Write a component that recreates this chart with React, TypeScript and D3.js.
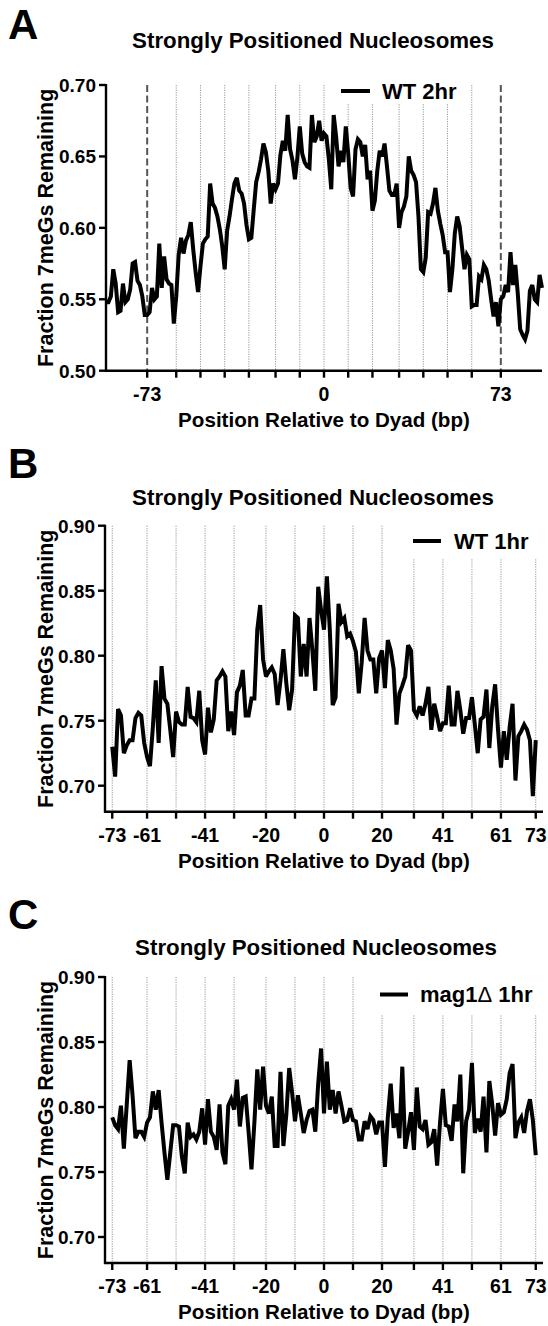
import React from "react";
import * as d3 from "d3";

// Fraction 7meGs remaining per bp
const startA = -90;
const wt2hr = [
  0.548, 0.548, 0.552, 0.571, 0.561, 0.541, 0.542, 0.561, 0.548, 0.55,
  0.557, 0.575, 0.576, 0.563, 0.56, 0.552, 0.539, 0.539, 0.541, 0.558,
  0.55, 0.552, 0.589, 0.558, 0.58, 0.564, 0.561, 0.56, 0.533, 0.552,
  0.581, 0.593, 0.582, 0.591, 0.595, 0.604, 0.585, 0.569, 0.555, 0.573,
  0.589, 0.592, 0.594, 0.631, 0.617, 0.614, 0.608, 0.599, 0.587, 0.571,
  0.598, 0.608, 0.62, 0.631, 0.635, 0.626, 0.624, 0.617, 0.602, 0.592,
  0.593, 0.613, 0.632, 0.639, 0.648, 0.659, 0.653, 0.64, 0.617, 0.631,
  0.627, 0.631, 0.651, 0.661, 0.654, 0.679, 0.655, 0.647, 0.634, 0.649,
  0.671, 0.652, 0.646, 0.643, 0.642, 0.679, 0.66, 0.664, 0.675, 0.661,
  0.666, 0.664, 0.648, 0.627, 0.679, 0.664, 0.643, 0.654, 0.646, 0.671,
  0.652, 0.628, 0.622, 0.655, 0.662, 0.66, 0.65, 0.658, 0.634, 0.64,
  0.612, 0.619, 0.64, 0.654, 0.65, 0.659, 0.643, 0.626, 0.623, 0.623,
  0.631, 0.6, 0.611, 0.615, 0.622, 0.65, 0.64, 0.637, 0.632, 0.608,
  0.571, 0.569, 0.579, 0.611, 0.61, 0.617, 0.628, 0.612, 0.603, 0.595,
  0.583, 0.583, 0.555, 0.571, 0.596, 0.608, 0.601, 0.586, 0.571, 0.581,
  0.578, 0.545, 0.546, 0.546, 0.566, 0.564, 0.574, 0.571, 0.563, 0.55,
  0.538, 0.548, 0.531, 0.55, 0.552, 0.56, 0.555, 0.583, 0.56, 0.574,
  0.554, 0.529, 0.525, 0.522, 0.528, 0.556, 0.56, 0.55, 0.548, 0.567,
  0.558,
];

const startBC = -73;
const wt1hr = [
  0.73, 0.707, 0.759, 0.754, 0.725, 0.731, 0.735, 0.735, 0.752, 0.756,
  0.754, 0.733, 0.722, 0.715, 0.745, 0.781, 0.733, 0.792, 0.767, 0.763,
  0.743, 0.722, 0.757, 0.749, 0.747, 0.747, 0.776, 0.753, 0.752, 0.749,
  0.773, 0.735, 0.724, 0.76, 0.741, 0.751, 0.781, 0.784, 0.788, 0.784,
  0.742, 0.757, 0.739, 0.772, 0.777, 0.789, 0.754, 0.754, 0.767, 0.767,
  0.82, 0.839, 0.797, 0.784, 0.788, 0.791, 0.786, 0.762, 0.781, 0.805,
  0.779, 0.758, 0.774, 0.831, 0.829, 0.784, 0.809, 0.784, 0.829, 0.804,
  0.773, 0.853, 0.835, 0.82, 0.861, 0.82, 0.762, 0.768, 0.84, 0.826,
  0.829, 0.815, 0.817, 0.811, 0.803, 0.771, 0.795, 0.829, 0.804, 0.797,
  0.797, 0.771, 0.798, 0.804, 0.775, 0.812, 0.804, 0.79, 0.747, 0.771,
  0.777, 0.784, 0.808, 0.804, 0.758, 0.754, 0.761, 0.754, 0.763, 0.776,
  0.743, 0.763, 0.753, 0.742, 0.748, 0.748, 0.777, 0.747, 0.747, 0.773,
  0.758, 0.74, 0.752, 0.752, 0.768, 0.747, 0.725, 0.751, 0.753, 0.774,
  0.729, 0.761, 0.778, 0.743, 0.714, 0.742, 0.72, 0.745, 0.763, 0.704,
  0.738, 0.742, 0.747, 0.743, 0.735, 0.692, 0.735,
];

const mag1 = [
  0.792, 0.786, 0.783, 0.801, 0.768, 0.802, 0.836, 0.809, 0.776, 0.781,
  0.781, 0.777, 0.788, 0.792, 0.812, 0.798, 0.813, 0.788, 0.765, 0.744,
  0.765, 0.786, 0.786, 0.785, 0.762, 0.749, 0.788, 0.777, 0.779, 0.775,
  0.781, 0.799, 0.771, 0.806, 0.781, 0.777, 0.767, 0.802, 0.765, 0.756,
  0.801, 0.806, 0.798, 0.821, 0.785, 0.807, 0.808, 0.781, 0.752, 0.788,
  0.829, 0.798, 0.831, 0.801, 0.795, 0.808, 0.77, 0.77, 0.827, 0.77,
  0.794, 0.83, 0.811, 0.789, 0.809, 0.795, 0.78, 0.79, 0.797, 0.798,
  0.781, 0.818, 0.845, 0.795, 0.835, 0.798, 0.813, 0.795, 0.812, 0.801,
  0.789, 0.79, 0.799, 0.79, 0.789, 0.775, 0.775, 0.789, 0.783, 0.793,
  0.79, 0.779, 0.788, 0.788, 0.754, 0.792, 0.818, 0.784, 0.795, 0.776,
  0.831, 0.768, 0.781, 0.796, 0.767, 0.815, 0.785, 0.783, 0.79, 0.771,
  0.773, 0.783, 0.755, 0.788, 0.814, 0.786, 0.785, 0.774, 0.802, 0.789,
  0.825, 0.749, 0.789, 0.798, 0.834, 0.78, 0.791, 0.781, 0.808, 0.765,
  0.82, 0.802, 0.778, 0.803, 0.794, 0.796, 0.806, 0.826, 0.833, 0.776,
  0.788, 0.792, 0.78, 0.797, 0.806, 0.79, 0.763,
];

const xTicks = [-73, -61, -51, -41, -31, -20, -10, 0, 10, 20, 31, 41, 51, 61, 73];
const xLabelsA = [-73, 0, 73];
const xLabelsBC = [-73, -61, -41, -20, 0, 20, 41, 61, 73];
const dashedA = [-73, 73];
const yTicksA = [0.5, 0.55, 0.6, 0.65, 0.7];
const yTicksBC = [0.7, 0.75, 0.8, 0.85, 0.9];

const FONT = "'Liberation Sans', Arial, Helvetica, sans-serif";

const panels = [
  {
    letter: "A", letterY: 39, title: "Strongly Positioned Nucleosomes", titleX: 313, titleY: 48,
    values: wt2hr, start: startA, xDomain: [-90, 90], xRange: [106, 542],
    yDomain: [0.5, 0.7], yRange: [370.7, 85], yTicks: yTicksA,
    xLabels: xLabelsA, dashed: dashedA,
    legend: { name: "WT 2hr", x1: 341, x2: 370, y: 91, tx: 382, ty: 99, box: [334, 78, 130, 26] },
  },
  {
    letter: "B", letterY: 478, title: "Strongly Positioned Nucleosomes", titleX: 313, titleY: 505,
    values: wt1hr, start: startBC, xDomain: [-75.5, 75.5], xRange: [105, 543],
    yDomain: [0.68, 0.9], yRange: [811.7, 525.7], yTicks: yTicksBC,
    xLabels: xLabelsBC, dashed: [] as number[],
    legend: { name: "WT 1hr", x1: 413, x2: 441, y: 541, tx: 454, ty: 548.5, box: [404, 522, 142, 36] },
  },
  {
    letter: "C", letterY: 929, title: "Strongly Positioned Nucleosomes", titleX: 316, titleY: 955,
    values: mag1, start: startBC, xDomain: [-75.5, 75.5], xRange: [105, 543],
    yDomain: [0.68, 0.9], yRange: [1263, 977], yTicks: yTicksBC,
    xLabels: xLabelsBC, dashed: [] as number[],
    legend: { name: "mag1", x1: 380, x2: 408, y: 994.5, tx: 420, ty: 1002, box: [370, 973, 176, 42] },
  },
];

function Panel({ p }: { p: (typeof panels)[number] }) {
  const x = d3.scaleLinear().domain(p.xDomain).range(p.xRange);
  const y = d3.scaleLinear().domain(p.yDomain).range(p.yRange);
  const line = d3
    .line<number>()
    .x((_, i) => x(p.start + i))
    .y((d) => y(d));
  const [y0, y1] = p.yRange;
  const [x0, x1] = p.xRange;
  const top = y(p.yDomain[1]);
  const fmt = d3.format(".2f");
  const leg = p.legend;

  return (
    <g fontFamily={FONT} fontWeight="bold" fill="#000">
      <text x={8} y={p.letterY} fontSize={42}>{p.letter}</text>
      <text x={p.titleX} y={p.titleY} fontSize={22.3} textAnchor="middle">{p.title}</text>

      {xTicks.map((t) =>
        p.dashed.includes(t) ? null : (
          <line key={"g" + t} x1={x(t)} x2={x(t)} y1={top} y2={y0}
            stroke="#999" strokeWidth={1} strokeDasharray="1.2,1.2" />
        )
      )}
      {p.dashed.map((t) => (
        <line key={"d" + t} x1={x(t)} x2={x(t)} y1={top} y2={y0}
          stroke="#555" strokeWidth={2} strokeDasharray="7,3.5" />
      ))}

      <rect x={leg.box[0]} y={leg.box[1]} width={leg.box[2]} height={leg.box[3]} fill="#fff" />
      <line x1={leg.x1} x2={leg.x2} y1={leg.y} y2={leg.y} stroke="#000" strokeWidth={4} />
      <text x={leg.tx} y={leg.ty} fontSize={22}>
        {leg.name}
        {p.letter === "C" ? <tspan fontWeight="normal">Δ</tspan> : null}
        {p.letter === "C" ? " 1hr" : null}
      </text>

      <path d={line(p.values) || ""} fill="none" stroke="#000" strokeWidth={4}
        strokeLinejoin="miter" strokeMiterlimit={3} />

      <line x1={x0} x2={x0} y1={y0 + 1} y2={top - 1} stroke="#000" strokeWidth={2.4} />
      <line x1={x0 - 1} x2={x1} y1={y0} y2={y0} stroke="#000" strokeWidth={2.4} />
      {p.yTicks.map((t) => (
        <g key={"y" + t}>
          <line x1={x0 - 7} x2={x0} y1={y(t)} y2={y(t)} stroke="#000" strokeWidth={2.4} />
          <text x={x0 - 10} y={y(t)} dy="0.36em" fontSize={19} textAnchor="end">{fmt(t)}</text>
        </g>
      ))}
      {xTicks.map((t) => (
        <line key={"x" + t} x1={x(t)} x2={x(t)} y1={y0} y2={y0 + 7} stroke="#000" strokeWidth={2.4} />
      ))}
      {p.xLabels.map((t) => (
        <text key={"l" + t} x={x(t)} y={y0 + 30} fontSize={19.5} textAnchor="middle">{t}</text>
      ))}
      <text x={324} y={y0 + 56} fontSize={20.6} textAnchor="middle">Position Relative to Dyad (bp)</text>
      <text transform={`translate(52.5,${(y0 + y1) / 2}) rotate(-90)`} fontSize={21.5} textAnchor="middle">
        Fraction 7meGs Remaining
      </text>
    </g>
  );
}

export default function App() {
  return (
    <svg width={548} height={1326} style={{ position: "absolute", left: 0, top: 0, background: "#fff" }}>
      <rect width={548} height={1326} fill="#fff" />
      {panels.map((p) => (
        <Panel key={p.letter} p={p} />
      ))}
    </svg>
  );
}
